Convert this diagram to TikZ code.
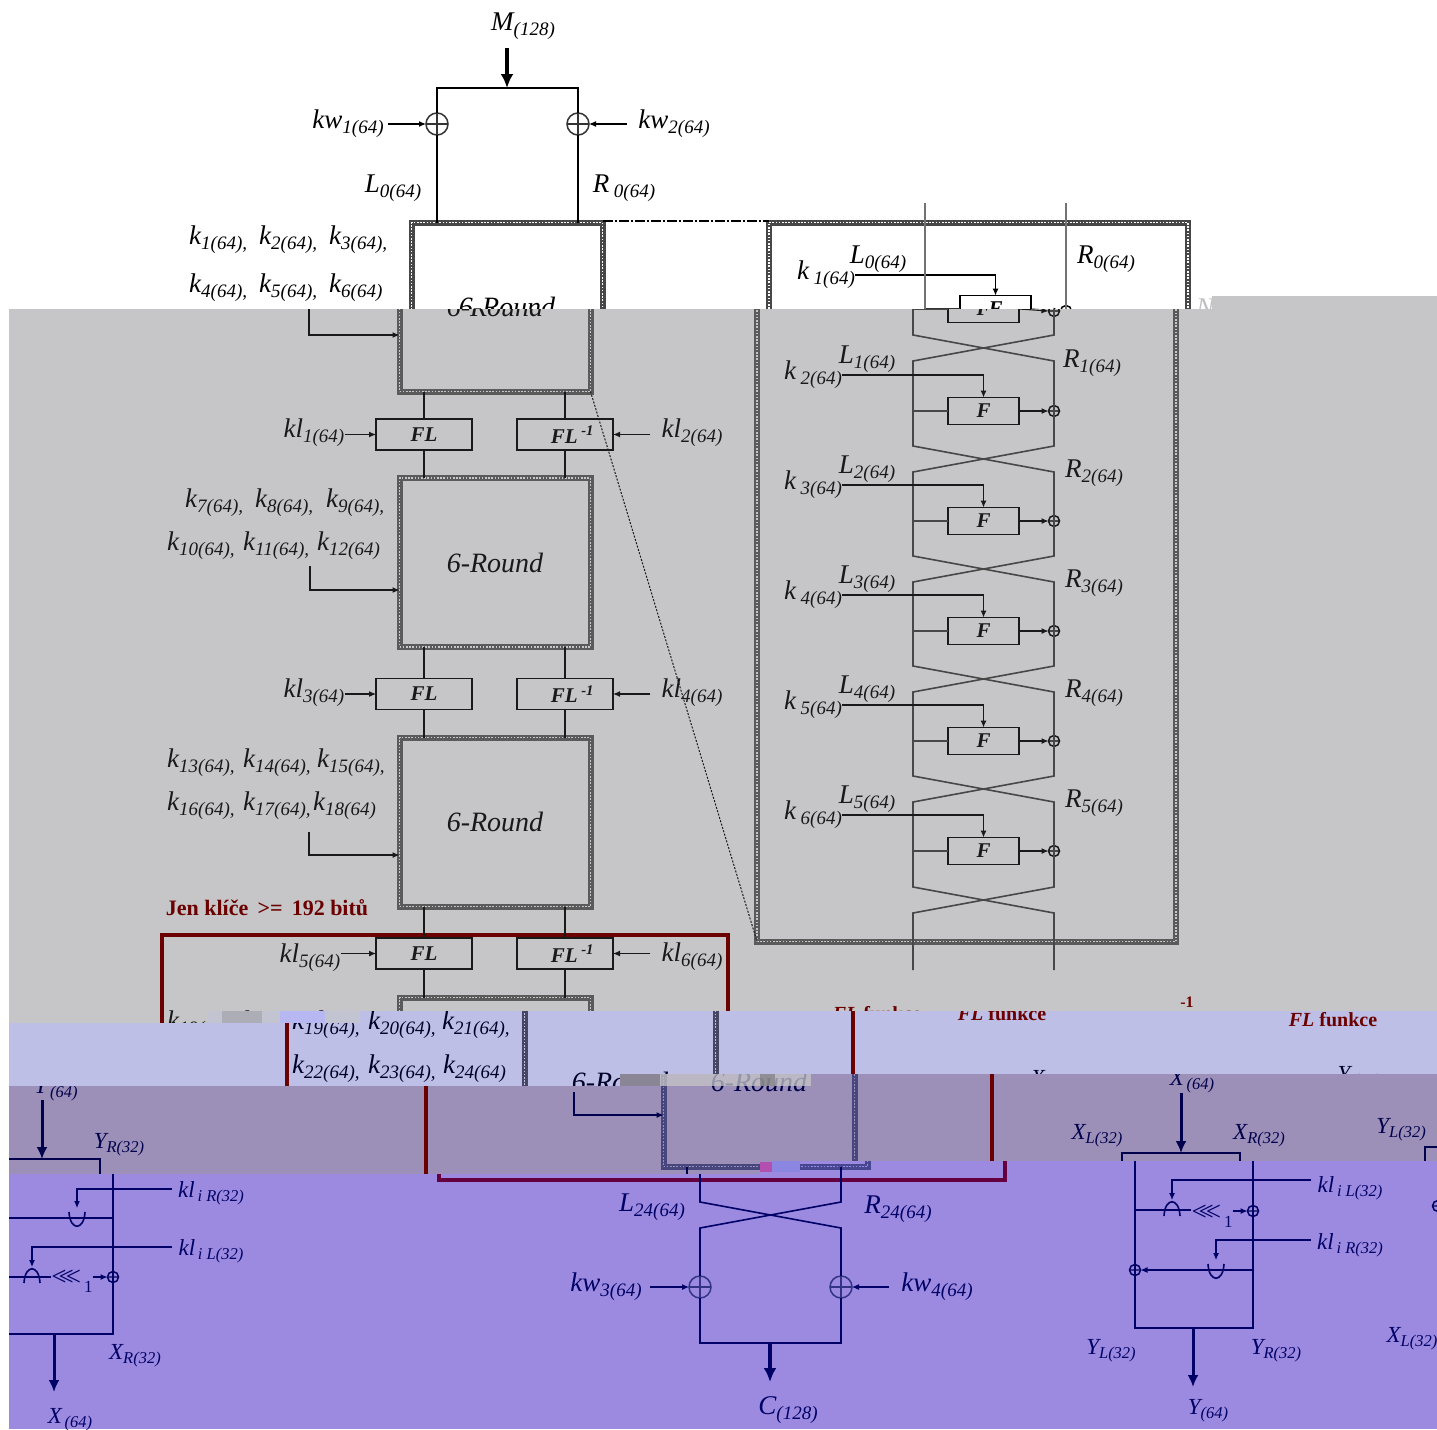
\documentclass[tikz,border=0pt]{standalone}
\usepackage{fontspec}
\setmainfont{Liberation Serif}
\usepackage{tikz}
\usetikzlibrary{arrows.meta,calc}

\colorlet{ink}{black}
\colorlet{paper}{white}
\colorlet{redink}{red!40!black}
\definecolor{bandgray}{HTML}{C6C6C8}
\definecolor{bandblue}{HTML}{BDBFE6}
\definecolor{bandmauve}{HTML}{9C90B8}
\definecolor{bandviolet}{HTML}{9B8AE0}
\definecolor{redviolet}{HTML}{640040}

\newcommand{\lab}[2]{#1\raisebox{-5pt}{\fontsize{19}{19}\selectfont #2}}
\newcommand{\slab}[2]{#1\raisebox{-4pt}{\fontsize{16.5}{17}\selectfont #2}}
\newcommand{\keycell}[2]{\makebox[#1][l]{\lab{k}{#2}}}
\newcommand{\rotone}{{\fontsize{27}{27}\selectfont\upshape<\kern-8pt<\kern-8pt<}\raisebox{-7pt}{\fontsize{17}{17}\selectfont\upshape\,1}}
\newcommand{\invtext}{\hspace*{15pt}FL\,\textsuperscript{-1}}

% all parts below are in the coordinates of the gray band

\newcommand{\drawroundA}{%
\node[roundbox] (rounda) at (495,307) {6-Round};
}

\newcommand{\drawinput}{%
% =========================
% Input whitening
% =========================
\node[lbl] (mtext) at (511,26) {\lab{M}{(128)}};
\coordinate (msrc) at (495,48);
\coordinate (mtee) at (495,88);
\node[xorbig] (xa) at (425,124) {};
\node[xorbig] (xb) at (566,124) {};
\node[lbl] (kwa) at (336,124) {\lab{kw}{1(64)}};
\node[lbl] (kwb) at (662,124) {\lab{kw}{2(64)}};
\node[lbl] (lzero) at (381,188) {\lab{L}{0(64)}};
\node[lbl] (rzero) at (612,188) {\lab{R\,}{0(64)}};
\node[keyrow] (keysaa) at (177,240) {\keycell{70pt}{1(64),}\keycell{70pt}{2(64),}\keycell{60pt}{3(64),}};
\node[keyrow] (keysab) at (177,288) {\keycell{70pt}{4(64),}\keycell{70pt}{5(64),}\keycell{60pt}{6(64)}};
\draw[heavyarrow] (msrc) -- (mtee);
\draw[wire] (xa.north) |- (mtee) -| (xb.north);
\draw[keyarrow, shorten <=4pt] (kwa.east |- xa) -- (xa.west);
\draw[keyarrow, shorten <=11pt] (kwb.west |- xb) -- (xb.east);
\draw[wire] (xa.south) -- (xa.south |- rounda.north);
\draw[wire] (xb.south) -- (xb.south |- rounda.north);
}

\newcommand{\drawrounds}{%
% =========================
% Round blocks and FL layers
% =========================
\node[roundbox] (roundb) at (495,562.5) {6-Round};
\node[roundbox] (roundc) at (495,822) {6-Round};
\node[flbox] (fla) at (424,434.5) {FL};
\node[flbox] (flia) at (565,434.5) {\invtext};
\node[flbox] (flb) at (424,694) {FL};
\node[flbox] (flib) at (565,694) {\invtext};
\node[flbox] (flc) at (424,953.5) {FL};
\node[flbox] (flic) at (565,953.5) {\invtext};
%
\draw[wire] (fla.north) -- (fla.north |- rounda.south);
\draw[wire] (flia.north) -- (flia.north |- rounda.south);
\draw[wire] (fla.south) -- (fla.south |- roundb.north);
\draw[wire] (flia.south) -- (flia.south |- roundb.north);
\draw[wire] (flb.north) -- (flb.north |- roundb.south);
\draw[wire] (flib.north) -- (flib.north |- roundb.south);
\draw[wire] (flb.south) -- (flb.south |- roundc.north);
\draw[wire] (flib.south) -- (flib.south |- roundc.north);
\draw[wire] (flc.north) -- (flc.north |- roundc.south);
\draw[wire] (flic.north) -- (flic.north |- roundc.south);
\draw[wire] (flc.south) -- (flc.south |- roundd.north);
\draw[wire] (flic.south) -- (flic.south |- roundd.north);
%
\node[lbl] (kla) at (314,433) {\lab{kl}{1(64)}};
\node[lbl] (klb) at (692,433) {\lab{kl}{2(64)}};
\node[lbl] (klc) at (314,693) {\lab{kl}{3(64)}};
\node[lbl] (kld) at (692,693) {\lab{kl}{4(64)}};
\node[lbl] (kle) at (310,958) {\lab{kl}{5(64)}};
\node[lbl] (klf) at (692,957) {\lab{kl}{6(64)}};
\draw[keyarrow] (kla.east |- fla) -- (fla.west);
\draw[keyarrow, shorten <=11pt] (klb.west |- flia) -- (flia.east);
\draw[keyarrow] (klc.east |- flb) -- (flb.west);
\draw[keyarrow, shorten <=11pt] (kld.west |- flib) -- (flib.east);
\draw[keyarrow] (kle.east |- flc) -- (flc.west);
\draw[keyarrow, shorten <=11pt] (klf.west |- flic) -- (flic.east);
%
% =========================
% Subkey lists
% =========================
\node[keyrow] (keysba) at (185,503) {\keycell{70pt}{7(64),}\keycell{71pt}{8(64),}\keycell{60pt}{9(64),}};
\node[keyrow] (keysbb) at (167,546) {\keycell{76pt}{10(64),}\keycell{74pt}{11(64),}\keycell{60pt}{12(64)}};
\node[keyrow] (keysca) at (167,763) {\keycell{76pt}{13(64),}\keycell{74pt}{14(64),}\keycell{60pt}{15(64),}};
\node[keyrow] (keyscb) at (167,806) {\keycell{76pt}{16(64),}\keycell{70pt}{17(64),}\keycell{60pt}{18(64)}};
\coordinate (feeda) at (309,309);
\coordinate (feedb) at (310,566);
\coordinate (feedc) at (309,832);
\draw[keyarrow] (feeda) |- ([yshift=-28pt]rounda.west);
\draw[keyarrow] (feedb) |- ([yshift=-27.5pt]roundb.west);
\draw[keyarrow] (feedc) |- ([yshift=-33pt]roundc.west);
\node[rednote] (optnote) at (267,908) {Jen klíče \,>=\, 192 bitů};
}

\newcommand{\drawroundD}[1]{%
\node[roundbox] (roundd) at (495,1082) {#1};
\node[optbox] (optframe) at (445,1057.5) {};
}

\newcommand{\drawkeysD}{%
\node[keyrow] (keysda) at (167,1025) {\keycell{76pt}{19(64),}\keycell{74pt}{20(64),}\keycell{60pt}{21(64),}};
\node[keyrow] (keysdb) at (167,1069) {\keycell{76pt}{22(64),}\keycell{75pt}{23(64),}\keycell{60pt}{24(64)}};
}

\newcommand{\drawfeedD}{%
\coordinate (feedd) at (310,1092);
\draw[keyarrow] (feedd) |- ([yshift=-33pt]roundd.west);
}

\newcommand{\drawoutput}{%
% =========================
% Output whitening
% =========================
\coordinate (cl) at (423,1202);
\coordinate (cr) at (564,1202);
\coordinate (ctee) at (493,1343);
\coordinate (cend) at (493,1382);
\node[xorbig] (xc) at (423,1287) {};
\node[xorbig] (xd) at (564,1287) {};
\node[lbl] (kwc) at (329,1287) {\lab{kw}{3(64)}};
\node[lbl] (kwd) at (660,1287) {\lab{kw}{4(64)}};
\node[lbl] (llast) at (375,1207) {\lab{L}{24(64)}};
\node[lbl] (rlast) at (621,1209) {\lab{R}{24(64)}};
\node[lbl] (ctext) at (511,1410) {\lab{C}{(128)}};
\draw[wire] (cl |- roundd.south) -- (cl) -- ++(141,26) -- (xd.north);
\draw[wire] (cr |- roundd.south) -- (cr) -- ++(-141,26) -- (xc.north);
\draw[wire] (xc.south) |- (ctee) -| (xd.south);
\draw[keyarrow, shorten <=8pt] (kwc.east |- xc) -- (xc.west);
\draw[keyarrow, shorten <=12pt] (kwd.west |- xd) -- (xd.east);
\draw[heavyarrow] (ctee) -- (cend);
}

\newcommand{\detailframe}{%
\node[detailbox] (detail) at (966.5,582) {};
\draw[linkdash] ([yshift=2pt]rounda.north east) -- ([yshift=2pt]detail.north west);
\draw[linkdot] (rounda.south east) -- (detail.south west);
}

\newcommand{\detailrowA}{%
\coordinate (ltop) at (913,203);
\coordinate (rtop) at (1054,203);
\coordinate (lla) at (913,309);
\node[xorsmall] (xra) at (1054,311) {};
\node[fbox] (fa) at (983.5,309) {F};
\draw[dwire] (lla) -- (fa.west);
\draw[keyarrow] (fa.east) -- (xra.west);
}

\newcommand{\detailtop}{%
\node[lbl] (dka) at (814,275) {\lab{k\,}{1(64)}};
\node[lbl] (dla) at (866,259) {\lab{L}{0(64)}};
\node[lbl] (dra) at (1094,259) {\lab{R}{0(64)}};
\draw[keyarrow] (dka.east) -| (fa.north);
\draw[dwire, draw=ink!55] (ltop) -- (lla);
\draw[dwire, draw=ink!55] (rtop) -- (xra.center);
}

\newcommand{\detailrest}{%
% =========================
% Detail of the six rounds
% =========================
\coordinate (lbot) at (913,970);
\coordinate (rbot) at (1054,970);
\coordinate (llb) at (913,411);
\coordinate (llc) at (913,521);
\coordinate (lld) at (913,631);
\coordinate (lle) at (913,741);
\coordinate (llf) at (913,851);
\node[xorsmall] (xrb) at (1054,411) {};
\node[xorsmall] (xrc) at (1054,521) {};
\node[xorsmall] (xrd) at (1054,631) {};
\node[xorsmall] (xre) at (1054,741) {};
\node[xorsmall] (xrf) at (1054,851) {};
\node[fbox] (fb) at (983.5,411) {F};
\node[fbox] (fc) at (983.5,521) {F};
\node[fbox] (fd) at (983.5,631) {F};
\node[fbox] (fe) at (983.5,741) {F};
\node[fbox] (ff) at (983.5,851) {F};
\draw[dwire] (lla) -- ++(0,26) -- ++(141,26) -- (xrb.center) -- ++(0,35) -- ++(-141,26) -- (llc) -- ++(0,35) -- ++(141,26) -- (xrd.center) -- ++(0,35) -- ++(-141,26) -- (lle) -- ++(0,35) -- ++(141,26) -- (xrf.center) -- ++(0,36) -- ++(-141,26) -- (lbot);
\draw[dwire] (xra.center) -- ++(0,24) -- ++(-141,26) -- (llb) -- ++(0,35) -- ++(141,26) -- (xrc.center) -- ++(0,35) -- ++(-141,26) -- (lld) -- ++(0,35) -- ++(141,26) -- (xre.center) -- ++(0,35) -- ++(-141,26) -- (llf) -- ++(0,36) -- ++(141,26) -- (rbot);
\draw[dwire] (llb) -- (fb.west);
\draw[dwire] (llc) -- (fc.west);
\draw[dwire] (lld) -- (fd.west);
\draw[dwire] (lle) -- (fe.west);
\draw[dwire] (llf) -- (ff.west);
\draw[keyarrow] (fb.east) -- (xrb.west);
\draw[keyarrow] (fc.east) -- (xrc.west);
\draw[keyarrow] (fd.east) -- (xrd.west);
\draw[keyarrow] (fe.east) -- (xre.west);
\draw[keyarrow] (ff.east) -- (xrf.west);
%
\node[lbl] (dkb) at (813,375) {\lab{k\,}{2(64)}};
\node[lbl] (dkc) at (813,485) {\lab{k\,}{3(64)}};
\node[lbl] (dkd) at (813,595) {\lab{k\,}{4(64)}};
\node[lbl] (dke) at (813,705) {\lab{k\,}{5(64)}};
\node[lbl] (dkf) at (813,815) {\lab{k\,}{6(64)}};
\draw[keyarrow] (dkb.east) -| (fb.north);
\draw[keyarrow] (dkc.east) -| (fc.north);
\draw[keyarrow] (dkd.east) -| (fd.north);
\draw[keyarrow] (dke.east) -| (fe.north);
\draw[keyarrow] (dkf.east) -| (ff.north);
%
\node[lbl] (dlb) at (867,359) {\lab{L}{1(64)}};
\node[lbl] (dlc) at (867,469) {\lab{L}{2(64)}};
\node[lbl] (dld) at (867,579) {\lab{L}{3(64)}};
\node[lbl] (dle) at (867,689) {\lab{L}{4(64)}};
\node[lbl] (dlf) at (867,799) {\lab{L}{5(64)}};
\node[lbl] (drb) at (1092,363) {\lab{R}{1(64)}};
\node[lbl] (drc) at (1094,473) {\lab{R}{2(64)}};
\node[lbl] (drd) at (1094,583) {\lab{R}{3(64)}};
\node[lbl] (dre) at (1094,693) {\lab{R}{4(64)}};
\node[lbl] (drf) at (1094,803) {\lab{R}{5(64)}};
}

\newcommand{\drawfltitles}{%
\node[redtitle] (fltitle) at (877,1014) {\textit{FL} funkce};
\node[redtitle] (flititle) at (1208,1020) {\textit{FL}\rlap{\kern-9pt\smash{\raisebox{19pt}{\fontsize{16}{16}\selectfont -1}}} funkce};
\node[slbl] (xin) at (928,1082) {\slab{X}{\,(64)}};
\node[slbl] (yin) at (1234,1078) {\slab{Y}{\,(64)}};
}

\newcommand{\drawfl}{%
% =========================
% FL function
% =========================
\node[slbl] (xlin) at (833,1136) {\slab{X}{L(32)}};
\node[slbl] (xrin) at (995,1136) {\slab{X}{R(32)}};
\coordinate (xsrc) at (917,1093);
\coordinate (xtee) at (917,1153);
\coordinate (xbl) at (858,1153);
\coordinate (xbr) at (976,1153);
\coordinate (ybl) at (858,1328);
\coordinate (ybr) at (976,1328);
\coordinate (ytee) at (916,1328);
\coordinate (yend) at (916,1387);
\coordinate (tapa) at (858,1210);
\coordinate (tapb) at (976,1270);
\coordinate (anda) at (895,1210);
\coordinate (ora) at (939,1270);
\node[xorsmall] (xfa) at (976,1211) {};
\node[xorsmall] (xfb) at (858,1270) {};
\node[slbl] (rota) at (935,1216) {\rotone};
\node[slbl] (klil) at (1073,1188) {\slab{kl}{\,i L(32)}};
\node[slbl] (klir) at (1073,1245) {\slab{kl}{\,i R(32)}};
\node[slbl] (yout) at (931,1411) {\slab{Y}{(64)}};
\node[slbl] (ylout) at (834,1351) {\slab{Y}{L(32)}};
\node[slbl] (yrout) at (999,1351) {\slab{Y}{R(32)}};
\draw[thinheavy] (xsrc) -- (xtee);
\draw[wire] (xbl) -- (xbr) -- (ybr) -- (ybl) -- cycle;
\draw[thinheavy] (ytee) -- (yend);
\draw[wire] (tapa) -- (tapa -| rota.west);
\draw[keyarrow] (rota.east |- xfa) -- (xfa.west);
\draw[keyarrow] (tapb) -- (xfb.east);
\draw[keyarrow, shorten <=6pt] ([yshift=8pt]klil.west) -| ([yshift=10pt]anda);
\draw[keyarrow, shorten <=6pt] ([yshift=5pt]klir.west) -| ([yshift=10pt]ora);
\draw[wire] (anda) ++(-8,6) .. controls +(1,-19) and +(-1,-19) .. ++(16,0);
\draw[wire] (ora) ++(-8,-6) .. controls +(1,19) and +(-1,19) .. ++(16,0);
}

\newcommand{\drawfli}{%
% =========================
% Inverse FL function
% =========================
\node[slbl] (ylin) at (1137,1130) {\slab{Y}{L(32)}};
\node[slbl] (yrin) at (1297,1133) {\slab{Y}{R(32)}};
\coordinate (ysrc) at (1220,1088);
\coordinate (itee) at (1220,1147);
\coordinate (ibl) at (1161,1147);
\coordinate (ibr) at (1278,1147);
\coordinate (ocl) at (1161,1322);
\coordinate (ocr) at (1278,1322);
\coordinate (otee) at (1219,1322);
\coordinate (oend) at (1219,1380);
\coordinate (tapc) at (1278,1206);
\coordinate (tapd) at (1161,1265);
\coordinate (orb) at (1242,1206);
\coordinate (andb) at (1197,1265);
\node[xorsmall] (xfc) at (1161,1206) {};
\node[xorsmall] (xfd) at (1278,1265) {};
\node[slbl] (rotb) at (1237,1269) {\rotone};
\node[slbl] (klir2) at (1376,1181) {\slab{kl}{\,i R(32)}};
\node[slbl] (klil2) at (1376,1239) {\slab{kl}{\,i L(32)}};
\node[slbl] (xout) at (1235,1408) {\slab{X}{\,(64)}};
\node[slbl] (xlout) at (1135,1339) {\slab{X}{L(32)}};
\node[slbl] (xrout) at (1300,1344) {\slab{X}{R(32)}};
\draw[thinheavy] (ysrc) -- (itee);
\draw[wire] (ibl) -- (ibr) -- (ocr) -- (ocl) -- cycle;
\draw[thinheavy] (otee) -- (oend);
\draw[wire] (tapd) -- (tapd -| rotb.west);
\draw[keyarrow] (rotb.east |- xfd) -- (xfd.west);
\draw[keyarrow] (tapc) -- (xfc.east);
\draw[keyarrow, shorten <=6pt] ([yshift=4pt]klir2.west) -| ([yshift=10pt]orb);
\draw[keyarrow, shorten <=6pt] ([yshift=4pt]klil2.west) -| ([yshift=10pt]andb);
\draw[wire] (andb) ++(-8,6) .. controls +(1,-19) and +(-1,-19) .. ++(16,0);
\draw[wire] (orb) ++(-8,-6) .. controls +(1,19) and +(-1,19) .. ++(16,0);
}

\begin{document}
\begin{tikzpicture}[
    x=1pt,
    y=-1pt,
    lbl/.style={
        inner sep=0pt,
        text=ink,
        font=\itshape\fontsize{27}{29}\selectfont
    },
    slbl/.style={
        inner sep=0pt,
        text=ink,
        font=\itshape\fontsize{23}{25}\selectfont
    },
    keyrow/.style={
        lbl,
        anchor=west
    },
    rednote/.style={
        inner sep=0pt,
        text=redink,
        font=\bfseries\fontsize{22}{24}\selectfont
    },
    redtitle/.style={
        inner sep=0pt,
        text=redink,
        font=\bfseries\fontsize{20}{22}\selectfont
    },
    wire/.style={
        draw=ink,
        line width=1.6pt
    },
    dwire/.style={
        draw=ink!80,
        line width=1.6pt
    },
    keyarrow/.style={
        draw=ink,
        line width=1.1pt,
        -{Latex[length=7pt,width=6pt]}
    },
    heavyarrow/.style={
        draw=ink,
        line width=4.5pt,
        -{Latex[length=14pt,width=13pt]}
    },
    thinheavy/.style={
        draw=ink,
        line width=3pt,
        -{Latex[length=12pt,width=11pt]}
    },
    roundbox/.style={
        rectangle,
        draw=ink!72,
        line width=6pt,
        minimum width=191pt,
        minimum height=169pt,
        inner sep=0pt,
        outer sep=0pt,
        text=ink,
        font=\itshape\fontsize{28}{30}\selectfont,
        postaction={draw=paper,line width=1.6pt,dash pattern=on 1.6pt off 1.6pt}
    },
    detailbox/.style={
        roundbox,
        minimum width=419pt,
        minimum height=719pt
    },
    optbox/.style={
        rectangle,
        draw=redink,
        line width=4pt,
        minimum width=566pt,
        minimum height=245pt,
        inner sep=0pt
    },
    flbox/.style={
        rectangle,
        draw=ink,
        line width=1.6pt,
        minimum width=96pt,
        minimum height=31pt,
        inner sep=0pt,
        outer sep=0pt,
        text=ink,
        font=\bfseries\itshape\fontsize{21}{23}\selectfont
    },
    fbox/.style={
        flbox,
        minimum width=71pt,
        minimum height=27pt
    },
    xorbig/.style={
        circle,
        draw=ink!80,
        line width=1.5pt,
        minimum size=22pt,
        inner sep=0pt,
        outer sep=0pt,
        path picture={
            \draw[ink!80,line width=1.1pt]
            (path picture bounding box.north) -- (path picture bounding box.south)
            (path picture bounding box.west) -- (path picture bounding box.east);
        }
    },
    xorsmall/.style={
        xorbig,
        draw=ink,
        minimum size=11pt
    },
    linkdash/.style={
        draw=black,
        line width=2pt,
        dash pattern=on 10pt off 2pt on 2pt off 2pt
    },
    linkdot/.style={
        draw=ink,
        line width=1pt,
        dash pattern=on 2pt off 1.5pt
    }
]

\useasboundingbox (0,0) rectangle (1437,1429);

% =========================
% White band
% =========================
\begin{scope}
\clip (0,0) -- (1437,0) -- (1437,296) -- (1212,296) -- (1212,309) -- (0,309) -- cycle;
\colorlet{ink}{black}
\colorlet{paper}{white}
\begin{scope}[xshift=12pt]
\drawroundA
\drawinput
\detailframe
\detailrowA
\detailtop
\end{scope}
\node[lbl, text=black!25] (strayn) at (1205,308) {N};
\end{scope}

% =========================
% Gray band
% =========================
\begin{scope}
\clip (9,309) -- (1212,309) -- (1212,296) -- (1437,296) -- (1437,1011) -- (208,1011) -- (208,1023) -- (9,1023) -- cycle;
\fill[bandgray] (0,0) rectangle (1437,1429);
\colorlet{ink}{black!90}
\colorlet{paper}{bandgray}
\colorlet{redink}{red!42!black}
\drawroundA
\drawroundD{}
\drawrounds
\drawkeysD
\detailframe
\detailrowA
\detailrest
\drawfltitles
\end{scope}

% =========================
% Blue band
% =========================
\begin{scope}
\clip (9,1023) -- (360,1023) -- (360,1011) -- (1437,1011) -- (1437,1074) -- (620,1074) -- (620,1086) -- (9,1086) -- cycle;
\fill[bandblue] (0,0) rectangle (1437,1429);
\colorlet{ink}{blue!15!black}
\colorlet{paper}{bandblue}
\colorlet{redink}{red!42!black}
\begin{scope}[xshift=125pt]
\drawroundD{6-Round}
\drawkeysD
\drawfltitles
\end{scope}
\end{scope}

% =========================
% Mauve band
% =========================
\begin{scope}
\clip (9,1086) -- (620,1086) -- (620,1074) -- (1437,1074) -- (1437,1161) -- (760,1161) -- (760,1174) -- (9,1174) -- cycle;
\fill[bandmauve] (0,0) rectangle (1437,1429);
\colorlet{ink}{blue!30!black}
\colorlet{paper}{bandmauve}
\colorlet{redink}{red!42!black}
\begin{scope}[xshift=264pt]
\drawroundD{6-Round}
\drawfeedD
\drawoutput
\drawfl
\drawfli
\node[slbl] (xtop) at (928,1082) {\slab{X}{\,(64)}};
\end{scope}
\begin{scope}[xshift=-1178pt,yshift=-12pt]
\drawfli
\node[slbl] (ytop) at (1234,1078) {\slab{Y}{\,(64)}};
\end{scope}
\end{scope}

% =========================
% Violet band
% =========================
\begin{scope}
\clip (9,1174) -- (760,1174) -- (760,1161) -- (1437,1161) -- (1437,1429) -- (9,1429) -- cycle;
\fill[bandviolet] (0,0) rectangle (1437,1429);
\colorlet{ink}{blue!40!black}
\colorlet{paper}{bandviolet}
\colorlet{redink}{redviolet}
\begin{scope}[xshift=277pt]
\drawroundD{}
\drawoutput
\drawfl
\drawfli
\end{scope}
\begin{scope}[xshift=-1165pt,yshift=-12pt]
\drawfli
\end{scope}
\end{scope}

% =========================
% Damaged strips
% =========================
\fill[bandgray!70!bandblue] (208,1011) rectangle (360,1023);
\fill[black!45,opacity=.4] (222,1011) rectangle (262,1023);
\fill[blue!30!white,opacity=.7] (280,1011) rectangle (325,1023);
\fill[black!50,opacity=.6] (620,1074) rectangle (660,1086);
\fill[bandgray,opacity=.75] (660,1074) rectangle (811,1086);
\fill[black!60,opacity=.5] (760,1074) rectangle (775,1086);
\fill[bandmauve] (760,1172) rectangle (800,1161);
\fill[blue!50!white,opacity=.6] (772,1161) rectangle (800,1172);
\fill[magenta!70!cyan] (760,1162) rectangle (772,1172);

\end{tikzpicture}
\end{document}
